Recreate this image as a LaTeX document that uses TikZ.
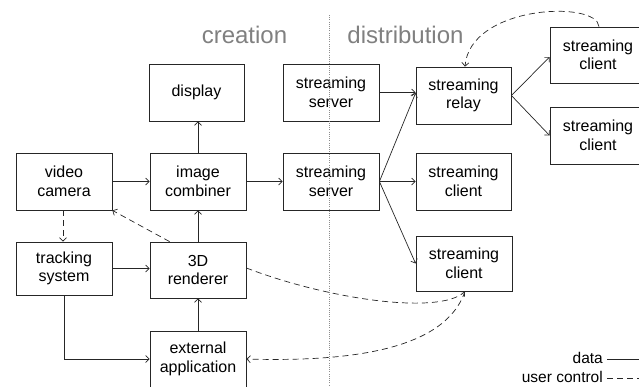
\documentclass[tikz,border=0pt]{standalone}
\usepackage{fontspec}
\setmainfont{Liberation Sans}
\usetikzlibrary{arrows.meta,calc}
\begin{document}
\begin{tikzpicture}[x=1pt,y=-1pt,
  >={Straight Barb[length=3.5pt,width=7pt]},
  box/.style={draw=black!85,line width=0.8pt,minimum width=96pt,minimum height=57pt,inner sep=0pt,align=center,font=\fontsize{16}{18.5}\selectfont},
  data/.style={->,draw=black!85,line width=0.7pt},
  ctrl/.style={->,draw=black!85,line width=0.7pt,dash pattern=on 6pt off 4pt},
  ttl/.style={text=black!50,font=\fontsize{24}{28}\selectfont,anchor=base,inner sep=0pt},
  leg/.style={font=\fontsize{15.5}{17}\selectfont,anchor=base east,inner sep=0pt}]
\useasboundingbox (0,0) rectangle (639,386);
% titles
\node[ttl] (tc) at (244.5,43) {creation};
\node[ttl] (td) at (405.5,43) {distribution};
% boxes
\node[box,minimum width=95pt] (disp) at (196.5,92.5) {display};
\node[box] (ss1) at (331,92.5) {streaming\\server};
\node[box,minimum width=95pt] (relay) at (463.5,95.5) {streaming\\relay};
\node[box,minimum height=56pt] (cr1) at (598,55) {streaming\\client};
\node[box] (cr2) at (598,135.5) {streaming\\client};
\node[box] (vc) at (64,181.5) {video\\camera};
\node[box] (ic) at (198,181.5) {image\\combiner};
\node[box] (ss2) at (331,181.5) {streaming\\server};
\node[box,minimum width=95pt] (cm) at (463.5,181.5) {streaming\\client};
\node[box,minimum height=55pt] (cl) at (464,263.5) {streaming\\client};
\node[box,minimum height=53pt] (ts) at (64,268.5) {tracking\\system};
\node[box,minimum height=56pt] (r3d) at (198,270) {3D\\renderer};
\node[box,minimum height=56pt] (ext) at (198,359) {external\\application};
% divider
\coordinate (dtop) at (329,15);
\coordinate (dbot) at (329,386);
\draw[black!45,line width=0.6pt,dash pattern=on 0.8pt off 1.4pt] (dtop) -- (dbot);
% data connectors
\draw[data] (vc.east) -- (ic.west);
\draw[data] (ic.east) -- (ss2.west);
\draw[data] (ic.north) -- (ic.north |- disp.south);
\draw[data] (r3d.north) -- (ic.south);
\draw[data] (ext.north) -- (r3d.south);
\draw[data] (ts.east) -- (ts.east -| r3d.west);
\draw[data] (ts.south) |- (ext.west);
\draw[data] (ss1.east) -- ($(relay.west)+(0,-3)$);
\draw[data] (ss2.east) -- ($(relay.west)+(0,-2.5)$);
\draw[data] (ss2.east) -- (cm.west);
\draw[data] (ss2.east) -- (cl.west);
\draw[data] (relay.east) -- ($(cr1.west)+(0,2)$);
\draw[data] (relay.east) -- (cr2.west);
% control connectors
\draw[ctrl] ([xshift=-1pt]vc.south) -- ([xshift=-1pt]ts.north);
\draw[ctrl] ([xshift=20pt]r3d.north west) -- (vc.south east);
\draw[ctrl] ([yshift=2pt]r3d.east) .. controls (330,300) and (440,315) .. ([xshift=1pt]cl.south);
\draw[ctrl] ([xshift=1pt]cl.south) .. controls (445,350) and (350,362) .. (ext.east);
\draw[ctrl] ([xshift=1pt]cr1.north) .. controls (597,0) and (470,5) .. ([xshift=1.5pt]relay.north);
% legend
\node[leg] (ldata) at (603,363) {data};
\node[leg] (luc) at (603,382) {user control};
\coordinate (ld) at (607,359);
\coordinate (lu) at (607,378);
\draw[draw=black!85,line width=0.7pt] (ld) -- ++(33,0);
\draw[draw=black!85,line width=0.7pt,dash pattern=on 6pt off 4pt] (lu) -- ++(33,0);
\end{tikzpicture}
\end{document}
